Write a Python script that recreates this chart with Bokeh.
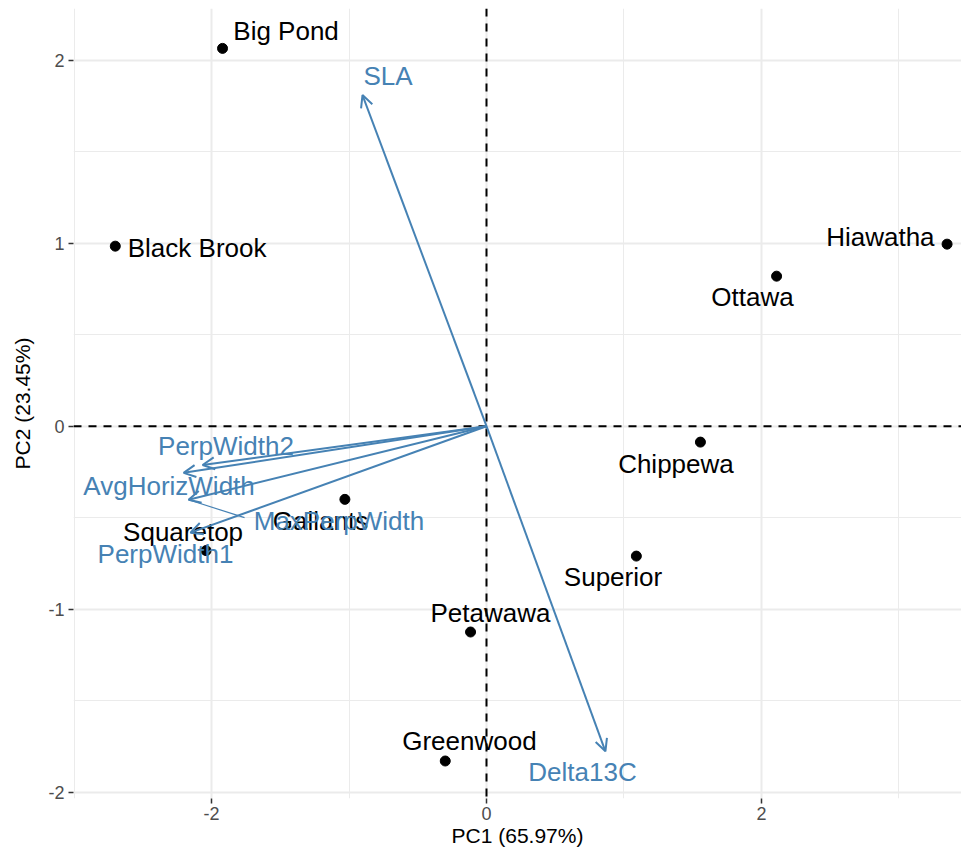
from bokeh.plotting import figure
from bokeh.models import ColumnDataSource, Arrow, OpenHead, Span, FixedTicker, Range1d
from bokeh.core.properties import value
from bokeh.embed import file_html
from bokeh.resources import INLINE

# Sites (PC scores)
sites = ["Big Pond", "Black Brook", "Hiawatha", "Ottawa", "Chippewa", "Superior",
         "Gallants", "Squaretop", "Petawawa", "Greenwood"]
site_pc1 = [-1.92, -2.70, 3.35, 2.11, 1.556, 1.09, -1.03, -2.04, -0.116, -0.30]
site_pc2 = [2.065, 0.984, 0.995, 0.82, -0.087, -0.71, -0.40, -0.68, -1.125, -1.83]
# label positions (repelled)
site_lab_x = [-1.458, -2.105, 2.865, 1.935, 1.378, 0.92, -1.207, -2.207, 0.029, -0.124]
site_lab_y = [2.158, 0.973, 1.033, 0.707, -0.207, -0.826, -0.519, -0.576, -1.022, -1.723]

# Variable loadings (arrow tips)
traits = ["SLA", "Delta13C", "PerpWidth2", "AvgHorizWidth", "MaxPerpWidth", "PerpWidth1"]
trait_pc1 = [-0.902, 0.865, -2.065, -2.203, -2.167, -2.153]
trait_pc2 = [1.81, -1.777, -0.212, -0.255, -0.402, -0.582]
trait_lab_x = [-0.716, 0.698, -1.895, -2.309, -1.073, -2.335]
trait_lab_y = [1.916, -1.891, -0.106, -0.329, -0.519, -0.701]
# repel connector segments (label -> tip)
seg_trait = ["MaxPerpWidth"]
seg_end_x = [-1.76]
seg_end_y = [-0.50]

x_ticks = [-2, 0, 2]
x_minor = [-3, -1, 1, 3]
y_ticks = [-2, -1, 0, 1, 2]
y_minor = [-1.5, -0.5, 0.5, 1.5]
x_title = "PC1 (65.97%)"
y_title = "PC2 (23.45%)"

STEEL = "#4682B4"
FONT = "Liberation Sans"

p = figure(frame_width=888, frame_height=790, output_backend="svg", toolbar_location=None,
           x_range=Range1d(-3.004, 3.455), y_range=Range1d(-2.035, 2.283),
           min_border_left=73, min_border_bottom=47, min_border_top=8, min_border_right=0,
           background_fill_color="white", border_fill_color="white")
p.outline_line_color = None

for ax, ticks, minor in ((p.xaxis[0], x_ticks, x_minor), (p.yaxis[0], y_ticks, y_minor)):
    ax.ticker = FixedTicker(ticks=ticks, minor_ticks=minor)
    ax.major_label_overrides = {t: str(t) for t in ticks}
    ax.axis_line_color = None
    ax.major_tick_line_color = "#333333"
    ax.major_tick_line_width = 1.5
    ax.major_tick_out = 5
    ax.major_tick_in = 0
    ax.minor_tick_line_color = None
    ax.major_label_text_font = FONT
    ax.major_label_text_font_size = "18px"
    ax.major_label_text_color = "#4D4D4D"
    ax.axis_label_text_font = FONT
    ax.axis_label_text_font_size = "21px"
    ax.axis_label_text_font_style = "normal"
    ax.axis_label_text_color = "black"

p.xaxis.axis_label = x_title
p.yaxis.axis_label = y_title
p.xaxis.major_label_standoff = 3
p.xaxis.axis_label_standoff = 1
p.yaxis.major_label_standoff = 4
p.yaxis.axis_label_standoff = 11

for g in (p.xgrid[0], p.ygrid[0]):
    g.grid_line_color = "#EBEBEB"
    g.grid_line_width = 2
    g.minor_grid_line_color = "#EBEBEB"
    g.minor_grid_line_width = 1

p.add_layout(Span(location=0, dimension="height", line_color="black", line_width=2, line_dash="8 7"))
p.add_layout(Span(location=0, dimension="width", line_color="black", line_width=2, line_dash="8 7"))

site_src = ColumnDataSource(dict(x=site_pc1, y=site_pc2, lx=site_lab_x, ly=site_lab_y, name=sites))
trait_src = ColumnDataSource(dict(x0=[0] * len(traits), y0=[0] * len(traits), x=trait_pc1, y=trait_pc2,
                                  lx=trait_lab_x, ly=trait_lab_y, name=traits))

# arrows
p.add_layout(Arrow(source=trait_src, x_start="x0", y_start="y0", x_end="x", y_end="y",
                   line_color=STEEL, line_width=2,
                   end=OpenHead(size=12, line_color=STEEL, line_width=2)))

# repel segment
idx = [traits.index(t) for t in seg_trait]
p.segment(x0=[trait_pc1[i] for i in idx], y0=[trait_pc2[i] for i in idx],
          x1=seg_end_x, y1=seg_end_y, line_color=STEEL, line_width=1.2)

p.scatter("x", "y", source=site_src, size=10, color="black")

p.text("lx", "ly", text="name", source=site_src, text_font=value(FONT), text_font_size="26px",
       text_color="black", text_align="center", text_baseline="middle")
p.text("lx", "ly", text="name", source=trait_src, text_font=value(FONT), text_font_size="26px",
       text_color=STEEL, text_align="center", text_baseline="middle")

open("out.html", "w").write(file_html(p, INLINE))
